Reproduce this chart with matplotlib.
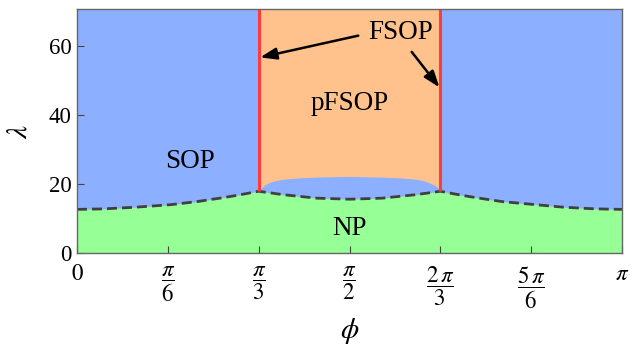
import numpy as np
import matplotlib
matplotlib.use("Agg")
import matplotlib.pyplot as plt

plt.rcParams['font.family'] = ['Liberation Serif', 'DejaVu Serif']
plt.rcParams['mathtext.fontset'] = 'stix'

# phase boundary NP / ordered phases (phi in units of pi, lambda)
bnd_phi = [0, 0.05, 0.109, 0.171, 0.22, 0.262, 0.293, 1/3, 0.379, 0.44, 0.5,
           0.56, 0.621, 2/3, 0.707, 0.738, 0.78, 0.829, 0.891, 0.95, 1]
bnd_lam = [12.75, 12.9, 13.4, 14.1, 15.0, 16.0, 16.8, 18.0, 17.0, 16.0, 15.7,
           16.0, 17.0, 18.0, 16.8, 16.0, 15.0, 14.3, 13.4, 12.9, 12.75]

# top of the SOP pocket inside pFSOP
bump_phi = [1/3, 0.338, 0.345, 0.354, 0.365, 0.379, 0.41, 0.44, 0.5, 0.56, 0.59, 0.621,
            0.635, 0.646, 0.657, 0.663, 2/3]
bump_lam = [18.0, 18.9, 19.9, 20.6, 21.1, 21.5, 21.9, 22.1, 22.3, 22.1, 21.9, 21.5,
            21.1, 20.5, 19.7, 18.9, 18.0]

# FSOP lines
fsop_phi = [1/3, 2/3]
fsop_lam = [18.0, 18.0]

ymax = 70.8
xtick_vals = [0, 1/6, 1/3, 1/2, 2/3, 5/6, 1]
xtick_labels = [r'$0$', r'$\dfrac{\pi}{6}$', r'$\dfrac{\pi}{3}$', r'$\dfrac{\pi}{2}$',
                r'$\dfrac{2\,\pi}{3}$', r'$\dfrac{5\,\pi}{6}$', r'$\pi$']
ytick_vals = [0, 20, 40, 60]

blue = '#8cafff'
orange = '#ffc28c'
green = '#96ff96'
red = '#ff3c3c'

pi = np.pi
bx = np.array(bnd_phi) * pi
ux = np.array(bump_phi) * pi
fx = np.array(fsop_phi) * pi

fig = plt.figure(figsize=(6.39, 3.49), dpi=100)
ax = fig.add_axes([0.1205, 0.274, 0.853, 0.7])
ax.set_facecolor(blue)

# pFSOP region
ax.fill_between(fx, 0, ymax, color=orange, lw=0)
# SOP pocket
ax.fill_between(ux, 0, bump_lam, color=blue, lw=0)
# NP
ax.fill_between(bx, 0, bnd_lam, color=green, lw=0)
ax.plot(bx, bnd_lam, color='#404040', lw=2.0, dashes=(3.6, 1.8))
ax.vlines(fx, fsop_lam, ymax, color=red, lw=2.2)

ax.text(0.207 * pi, 26.5, 'SOP', fontsize=19.5, ha='center', va='center')
ax.text(0.5 * pi, 43.3, 'pFSOP', fontsize=19.5, ha='center', va='center')
ax.text(0.5 * pi, 7.3, 'NP', fontsize=19.5, ha='center', va='center')
ax.text(0.593 * pi, 63.9, 'FSOP', fontsize=19.5, ha='center', va='center')
arr = dict(arrowstyle='-|>,head_length=0.7,head_width=0.25', color='black', lw=1.8,
           mutation_scale=14, shrinkA=0, shrinkB=0)
ax.annotate('', xy=(0.336 * pi, 56.8), xytext=(0.516 * pi, 63.1), arrowprops=arr)
ax.annotate('', xy=(0.665 * pi, 48.1), xytext=(0.614 * pi, 58.4), arrowprops=arr)

ax.set_xlim(0, pi)
ax.set_ylim(0, ymax)
ax.set_xticks(np.array(xtick_vals) * pi)
ax.set_xticklabels(xtick_labels)
ax.set_yticks(ytick_vals)
ax.tick_params(direction='in', length=5, width=0.8, color='#444444', labelsize=16.5)
ax.tick_params(axis='x', pad=8)
ax.tick_params(axis='y', pad=4)
for s in ax.spines.values():
    s.set_color('#666666')
    s.set_linewidth(1.0)

ax.set_xlabel(r'$\phi$', fontsize=21)
ax.set_ylabel(r'$\lambda$', fontsize=21)
ax.xaxis.set_label_coords(0.5, -0.255)
ax.yaxis.set_label_coords(-0.081, 0.5)

fig.savefig('out.png', dpi=100)
